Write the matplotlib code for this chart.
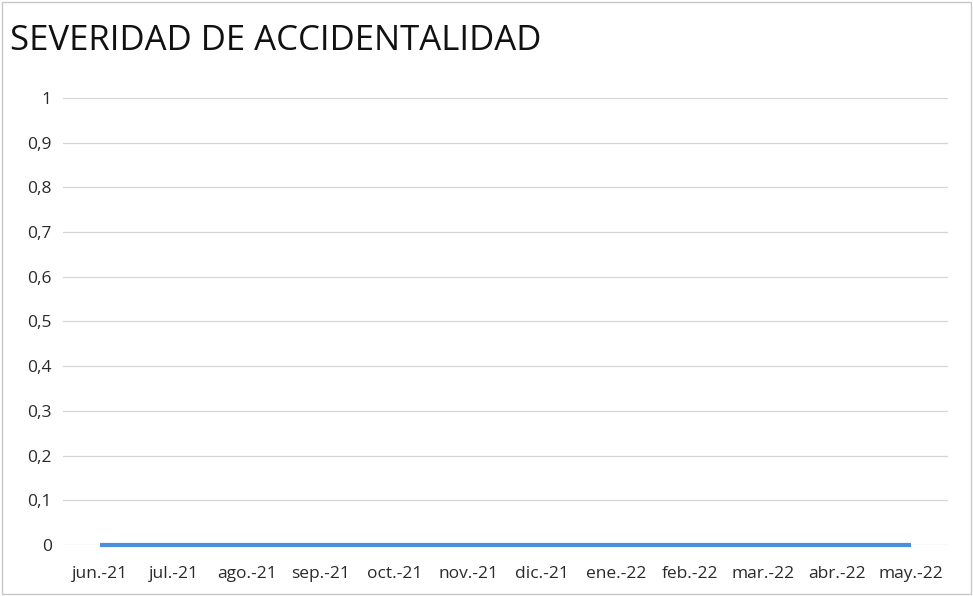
import matplotlib.pyplot as plt
from matplotlib.patches import Rectangle
from matplotlib.ticker import FuncFormatter

# data
months = ['jun.-21', 'jul.-21', 'ago.-21', 'sep.-21', 'oct.-21', 'nov.-21',
          'dic.-21', 'ene.-22', 'feb.-22', 'mar.-22', 'abr.-22', 'may.-22']
severidad = [0, 0, 0, 0, 0, 0, 0, 0, 0, 0, 0, 0]
y_ticks = [0, 0.1, 0.2, 0.3, 0.4, 0.5, 0.6, 0.7, 0.8, 0.9, 1]

plt.rcParams['font.family'] = ['Open Sans', 'DejaVu Sans']

fig = plt.figure(figsize=(9.73, 5.96), dpi=100)
ax = fig.add_axes([0.0647, 0.0856, 0.9093, 0.75])

ax.plot(range(len(months)), severidad, color='#4a8fde', linewidth=3,
        solid_capstyle='butt', clip_on=False, zorder=3)

ax.set_xlim(-0.5, len(months) - 0.5)
ax.set_ylim(0, 1)
ax.set_yticks(y_ticks)
ax.yaxis.set_major_formatter(FuncFormatter(lambda v, p: ('%g' % round(v, 1)).replace('.', ',')))
ax.set_xticks(range(len(months)))
ax.set_xticklabels(months)
ax.tick_params(axis='both', length=0, labelsize=12.5, colors='#2a2a2a')
ax.tick_params(axis='y', pad=8)
ax.tick_params(axis='x', pad=15)
ax.grid(axis='y', color='#d6d6d6', linewidth=0.9)
ax.set_axisbelow(True)
for s in ax.spines.values():
    s.set_visible(False)

fig.text(0.0103, 0.932, 'SEVERIDAD DE ACCIDENTALIDAD', fontsize=25, color='#111111',
         va='center', ha='left')

# chart frame
fig.patches.append(Rectangle((0.002, 0.003), 0.996, 0.994, transform=fig.transFigure,
                             fill=False, edgecolor='#c8c8c8', linewidth=1))

fig.savefig('out.png', dpi=100)
